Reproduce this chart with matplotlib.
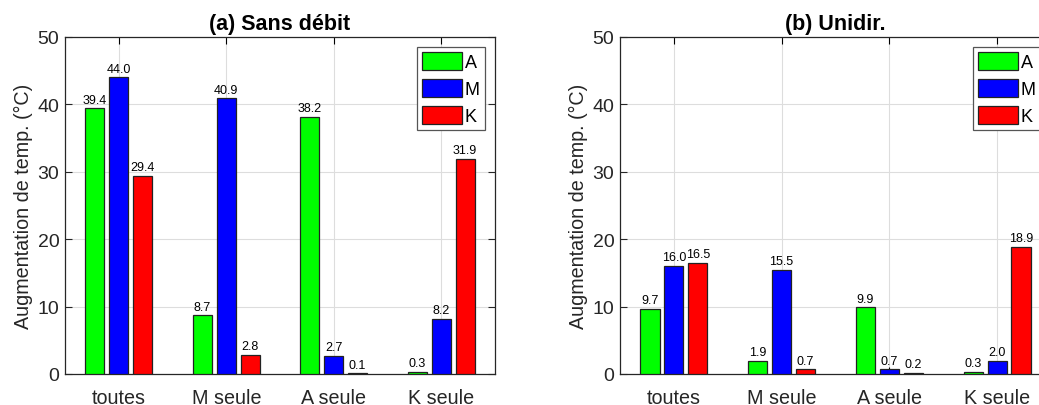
import matplotlib.pyplot as plt
import numpy as np

plt.rcParams['font.family'] = ['Liberation Sans', 'DejaVu Sans']

categories = ["toutes", "M seule", "A seule", "K seule"]
series_names = ["A", "M", "K"]
colors = ["#00ff00", "#0000ff", "#ff0000"]

# (a) Sans débit
sans_A = [39.4, 8.7, 38.2, 0.3]
sans_M = [44.0, 40.9, 2.7, 8.2]
sans_K = [29.4, 2.8, 0.1, 31.9]

# (b) Unidir.
uni_A = [9.7, 1.9, 9.9, 0.3]
uni_M = [16.0, 15.5, 0.7, 2.0]
uni_K = [16.5, 0.7, 0.2, 18.9]

W, H = 1039, 406
fig = plt.figure(figsize=(W / 100, H / 100), dpi=100)


def panel(rect, data, title):
    ax = fig.add_axes(rect)
    x = np.arange(1, len(categories) + 1)
    offs = [-0.222, 0.0, 0.222]
    for vals, off, c, name in zip(data, offs, colors, series_names):
        bars = ax.bar(x + off, vals, width=0.178, color=c, edgecolor="#222222",
                      linewidth=0.9, label=name, zorder=3)
        for b, v in zip(bars, vals):
            ax.text(b.get_x() + b.get_width() / 2, v + 0.4, f"{v:.1f}",
                    ha="center", va="bottom", fontsize=9, zorder=4)
    ax.set_xlim(0.5, 4.5)
    ax.set_ylim(0, 50)
    ax.set_xticks(x)
    ax.set_xticklabels(categories, fontsize=14.2, color="#262626")
    ax.set_yticks([0, 10, 20, 30, 40, 50])
    ax.tick_params(axis="y", labelsize=14, colors="#262626", pad=4)
    ax.tick_params(axis="x", pad=10)
    ax.tick_params(direction="in", top=True, right=True, length=5, width=0.8,
                   labelcolor="#262626")
    ax.grid(True, color="#dddddd", linewidth=0.8, zorder=0)
    ax.set_axisbelow(True)
    for s in ax.spines.values():
        s.set_color("#262626")
        s.set_linewidth(0.9)
    ax.set_ylabel("Augmentation de temp. (°C)", fontsize=14.2, color="#262626",
                  labelpad=3)
    ax.set_title(title, fontsize=15.5, fontweight="bold", pad=6)
    leg = ax.legend(loc="upper right", fontsize=13, handlelength=2.2,
                    handleheight=1.1, handletextpad=0.15, labelspacing=0.45,
                    borderpad=0.3, borderaxespad=0.55, fancybox=False,
                    framealpha=1, edgecolor="#555555")
    leg.get_frame().set_linewidth(0.9)
    return ax


panel([65 / W, 1 - 375 / H, 430 / W, 337 / H], [sans_A, sans_M, sans_K],
      "(a) Sans débit")
panel([620 / W, 1 - 375 / H, 431 / W, 337 / H], [uni_A, uni_M, uni_K],
      "(b) Unidir.")

fig.savefig("out.png", dpi=100)
